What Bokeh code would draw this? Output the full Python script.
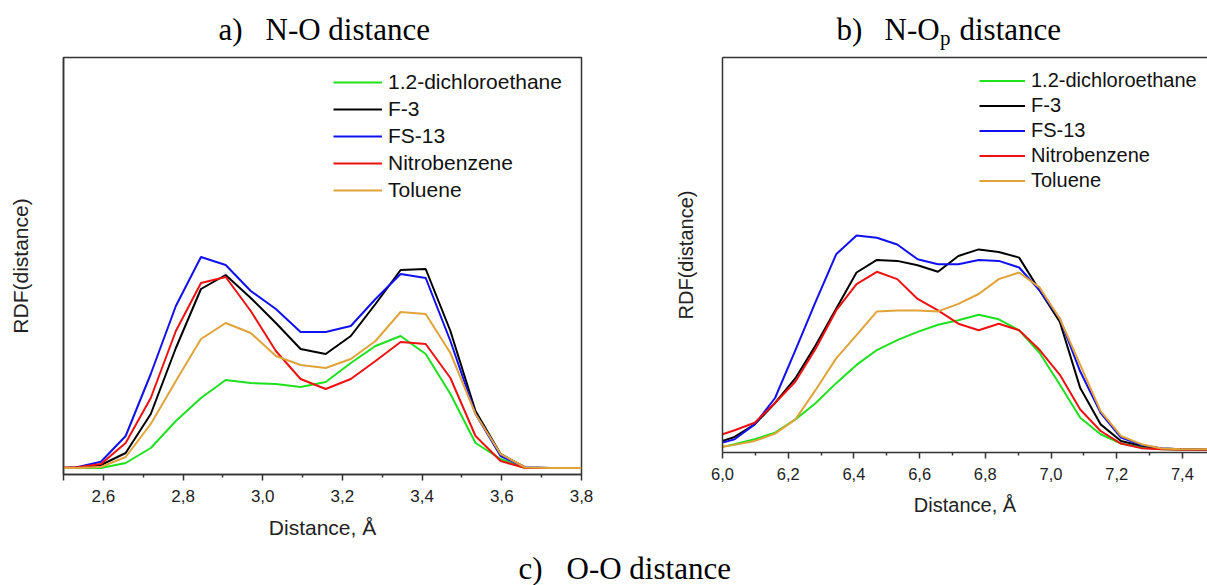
from bokeh.plotting import figure
from bokeh.models import (Range1d, LinearAxis, FixedTicker, CustomJSTickFormatter,
                          Legend, LegendItem, Label)
from bokeh.layouts import column, row
from bokeh.embed import file_html
from bokeh.resources import INLINE

series = ["1.2-dichloroethane", "F-3", "FS-13", "Nitrobenzene", "Toluene"]
colors = ["#1de11d", "#000000", "#1010f0", "#ee1111", "#e0a33a"]

# ---- panel a) N-O distance ----
dist_a = [2.50, 2.531, 2.594, 2.656, 2.719, 2.782, 2.845, 2.907, 2.970, 3.033, 3.095,
          3.158, 3.221, 3.283, 3.346, 3.409, 3.471, 3.534, 3.597, 3.659, 3.722, 3.80]
dce_a = [0.0, 0.0, 0.0, 0.5, 2.0, 4.7, 7.0, 8.8, 8.5, 8.4, 8.1,
         8.6, 10.5, 12.2, 13.2, 11.4, 7.4, 2.5, 0.9, 0.0, 0.0, 0.0]
f3_a = [0.0, 0.05, 0.3, 1.5, 5.4, 12.0, 17.9, 19.3, 17.0, 14.5, 11.9,
        11.4, 13.2, 16.4, 19.8, 19.9, 13.7, 5.7, 1.4, 0.05, 0.0, 0.0]
fs13_a = [0.0, 0.05, 0.63, 3.2, 9.4, 16.2, 21.1, 20.3, 17.7, 15.9, 13.6,
          13.6, 14.2, 16.9, 19.4, 19.0, 12.7, 5.4, 1.2, 0.05, 0.0, 0.0]
nitro_a = [0.05, 0.05, 0.4, 2.5, 7.0, 13.7, 18.5, 19.1, 15.7, 11.7, 8.9,
           7.9, 8.9, 10.7, 12.6, 12.4, 9.0, 3.2, 0.7, 0.0, 0.0, 0.0]
tol_a = [0.0, 0.0, 0.1, 1.1, 4.4, 8.7, 12.9, 14.5, 13.5, 11.2, 10.3,
         10.0, 10.9, 12.7, 15.6, 15.4, 11.5, 5.4, 1.4, 0.05, 0.0, 0.0]
ticks_a = [2.5, 2.6, 2.8, 3.0, 3.2, 3.4, 3.6, 3.8]
minor_a = [2.7, 2.9, 3.1, 3.3, 3.5, 3.7]
unlabeled_a = [2.5]

# ---- panel b) N-Op distance ----
dist_b = [6.00, 6.037, 6.098, 6.160, 6.222, 6.284, 6.346, 6.408, 6.470, 6.532, 6.594, 6.656,
          6.718, 6.780, 6.841, 6.903, 6.965, 7.027, 7.089, 7.151, 7.213, 7.275, 7.337, 7.399, 7.48]
dce_b = [0.3, 0.57, 1.07, 1.73, 3.07, 4.73, 6.73, 8.57, 10.07, 11.07, 11.9, 12.63,
         13.07, 13.63, 13.17, 12.07, 9.8, 6.57, 3.23, 1.57, 0.63, 0.23, 0.05, 0.0, 0.0]
f3_b = [0.9, 1.3, 2.57, 4.73, 7.23, 10.57, 14.23, 17.9, 19.17, 19.07, 18.63, 17.97,
        19.57, 20.23, 19.97, 19.4, 16.1, 12.9, 6.23, 2.57, 0.9, 0.4, 0.13, 0.05, 0.0]
fs13_b = [0.73, 1.07, 2.57, 5.23, 10.07, 14.98, 19.73, 21.63, 21.4, 20.73, 19.23, 18.73,
          18.73, 19.17, 19.07, 18.4, 16.1, 13.23, 7.9, 3.73, 1.23, 0.5, 0.13, 0.05, 0.0]
nitro_b = [1.57, 1.97, 2.73, 4.73, 6.9, 10.23, 14.07, 16.73, 17.97, 17.23, 15.23, 14.07,
           12.73, 12.07, 12.73, 12.07, 10.1, 7.57, 4.07, 1.9, 0.63, 0.17, 0.05, 0.0, 0.0]
tol_b = [0.3, 0.5, 0.9, 1.63, 3.07, 6.07, 9.23, 11.57, 13.97, 14.07, 14.07, 13.97,
         14.73, 15.73, 17.23, 17.9, 16.4, 13.23, 8.57, 3.9, 1.4, 0.57, 0.13, 0.07, 0.07]
ticks_b = [6.0, 6.2, 6.4, 6.6, 6.8, 7.0, 7.2, 7.4]
minor_b = [6.1, 6.3, 6.5, 6.7, 6.9, 7.1, 7.3]
unlabeled_b = []

SANS = "Liberation Sans"
SERIF = "Liberation Serif"
AX = "#333333"
fmt = "return hide.includes(tick) ? '' : tick.toFixed(1).replace('.', ',');"


def style_axis(ax, tick_size, label_size):
    ax.axis_line_color = AX
    ax.axis_line_width = 1.5
    ax.major_tick_line_color = AX
    ax.major_tick_line_width = 1.5
    ax.minor_tick_line_color = AX
    ax.minor_tick_line_width = 1.5
    ax.major_tick_in = 0
    ax.minor_tick_in = 0
    ax.major_label_text_font = SANS
    ax.major_label_text_font_size = tick_size
    ax.major_label_text_color = "#222222"
    ax.axis_label_text_font = SANS
    ax.axis_label_text_font_size = label_size
    ax.axis_label_text_font_style = "normal"
    ax.axis_label_text_color = "#222222"


def panel(xs, ys_list, xr, yr, ticks, minor, hide, w, h, borders, legend_loc, leg_font,
          glyph_w, item_h, spacing, tick_size, label_size, full_box, ylab_standoff):
    p = figure(width=w, height=h, x_range=Range1d(*xr), y_range=Range1d(*yr),
               x_axis_type=None, y_axis_type=None, output_backend="svg",
               toolbar_location=None, min_border_left=borders[0],
               min_border_right=borders[1], min_border_top=borders[2],
               min_border_bottom=borders[3], align="start")
    p.background_fill_color = "white"
    p.border_fill_color = "white"
    if full_box:
        p.outline_line_color = AX
        p.outline_line_width = 1.5
    else:
        p.outline_line_color = None
        top = LinearAxis(ticker=FixedTicker(ticks=[]), major_label_text_font_size="0px",
                         major_tick_out=0, minor_tick_out=0, major_label_standoff=0)
        top.axis_line_color = AX
        top.axis_line_width = 1.5
        p.add_layout(top, "above")

    xa = LinearAxis(ticker=FixedTicker(ticks=ticks, minor_ticks=minor),
                    formatter=CustomJSTickFormatter(args=dict(hide=hide), code=fmt),
                    axis_label="Distance, Å")
    style_axis(xa, tick_size, label_size)
    xa.major_tick_out = 6
    xa.minor_tick_out = 3
    xa.major_label_standoff = 9
    xa.axis_label_standoff = 11
    p.add_layout(xa, "below")

    ya = LinearAxis(ticker=FixedTicker(ticks=[]), axis_label="RDF(distance)",
                    major_label_text_font_size="0px")
    style_axis(ya, tick_size, label_size)
    ya.major_tick_out = 0
    ya.minor_tick_out = 0
    ya.major_label_standoff = 0
    ya.axis_label_standoff = ylab_standoff
    p.add_layout(ya, "left")

    items = []
    for name, col, ys in zip(series, colors, ys_list):
        r = p.line(xs, ys, line_color=col, line_width=2)
        items.append(LegendItem(label=name, renderers=[r]))
    leg = Legend(items=items, location=legend_loc, padding=0, margin=0,
                 border_line_color=None, background_fill_alpha=0,
                 label_text_font=SANS, label_text_font_size=leg_font,
                 label_text_color="#111111", glyph_width=glyph_w,
                 glyph_height=item_h, label_height=item_h, spacing=spacing,
                 label_standoff=6)
    p.add_layout(leg)
    return p


p1 = panel(dist_a, [dce_a, f3_a, fs13_a, nitro_a, tol_a], (2.5, 3.8), (-0.65, 41.05),
           ticks_a, minor_a, unlabeled_a, 620, 498, (63, 39, 7, 74), (270, 272), "21px",
           49, 24, 3, "17px", "21px", True, 32)
p2 = panel(dist_b, [dce_b, f3_b, fs13_b, nitro_b, tol_b], (6.0, 7.4764), (-0.27, 39.6),
           ticks_b, minor_b, unlabeled_b, 587, 476, (102, 0, 7, 74), (257, 260), "20px",
           46, 23, 2, "16.5px", "20px", False, 26)


def strip(h, y0, y1):
    s = figure(width=1207, height=h, x_range=Range1d(0, 1207), y_range=Range1d(y1, y0),
               x_axis_type=None, y_axis_type=None, output_backend="svg",
               toolbar_location=None, min_border=0)
    s.outline_line_color = None
    s.background_fill_color = "white"
    s.border_fill_color = "white"
    return s


def lab(fig, x, y, text, size="31px"):
    fig.add_layout(Label(x=x, y=y, text=text, text_font=SERIF, text_font_size=size,
                         text_baseline="middle", text_align="left", text_color="#000000"))


header = strip(50, 0, 50)
lab(header, 218, 28.5, "a)")
lab(header, 265, 28.5, "N-O distance")
lab(header, 836, 28.5, "b)")
lab(header, 884, 28.5, "N-O")
lab(header, 939.5, 37, "p", "21px")
lab(header, 959, 28.5, "distance")

footer = strip(37, 548, 585)
lab(footer, 518, 568, "c)")
lab(footer, 566, 568, "O-O distance")

layout = column(header, row(p1, p2), footer)
open("out.html", "w").write(file_html(layout, INLINE))
